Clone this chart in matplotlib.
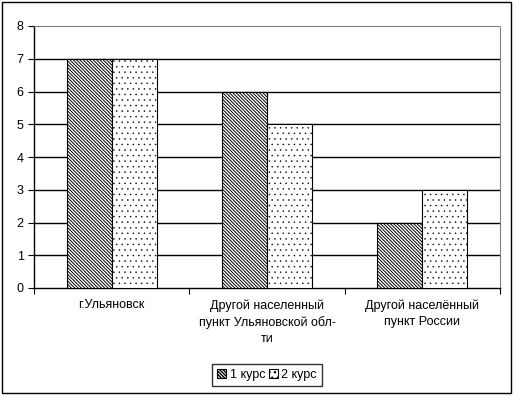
import numpy as np
import matplotlib.pyplot as plt
from matplotlib.patches import Rectangle

plt.rcParams['font.family'] = ['Liberation Sans', 'DejaVu Sans']

categories = ["г.Ульяновск",
              "Другой населенный\nпункт Ульяновской обл-\nти",
              "Другой населённый\nпункт России"]
kurs1 = [7, 6, 2]
kurs2 = [7, 5, 3]
series_names = ["1 курс", "2 курс"]

fig = plt.figure(figsize=(5.16, 3.97), dpi=100)
ax = fig.add_axes([34/516, 1 - 288/397, 466/516, 262/397])

x = np.arange(len(categories))
w = 0.29
with plt.rc_context({'hatch.linewidth': 0.7}):
    ax.bar(x - w/2, kurs1, w, color='white', edgecolor='black', hatch='\\' * 10,
           linewidth=0.8, label=series_names[0], zorder=3)
with plt.rc_context({'hatch.linewidth': 0.3}):
    ax.bar(x + w/2, kurs2, w, color='white', edgecolor='black', hatch='...',
           linewidth=0.8, label=series_names[1], zorder=3)

ax.set_xlim(-0.5, len(categories) - 0.5)
ax.set_ylim(0, 8)
ax.set_yticks(range(0, 9))
for v in range(1, 8):
    ax.axhline(v, color='black', linewidth=1, zorder=1)

for s in ['top', 'right']:
    ax.spines[s].set_color('gray')
    ax.spines[s].set_linestyle((0, (1, 1)))
ax.spines['left'].set_linewidth(1)
ax.spines['bottom'].set_linewidth(1)

ax.set_xticks(np.arange(-0.5, len(categories)))
ax.set_xticklabels([])
ax.set_xticks(x, minor=True)
ax.set_xticklabels(categories, minor=True, fontsize=9, linespacing=1.45)
ax.tick_params(axis='x', which='minor', length=0, pad=8)
ax.tick_params(axis='x', which='major', length=4)
ax.tick_params(axis='y', labelsize=9, length=4)

leg = fig.legend(loc='center', bbox_to_anchor=(267/516, 1 - 375/397), ncol=2, fontsize=9,
                 frameon=True, fancybox=False, edgecolor='black', handlelength=0.7,
                 handleheight=0.7, handletextpad=0.3, columnspacing=0.3, borderpad=0.4)
leg.get_frame().set_linewidth(1)

fig.patches.append(Rectangle((2/516, 1 - 393/397), 509/516, 391/397, transform=fig.transFigure,
                             fill=False, edgecolor='black', linewidth=1))

fig.savefig('out.png', dpi=100)
